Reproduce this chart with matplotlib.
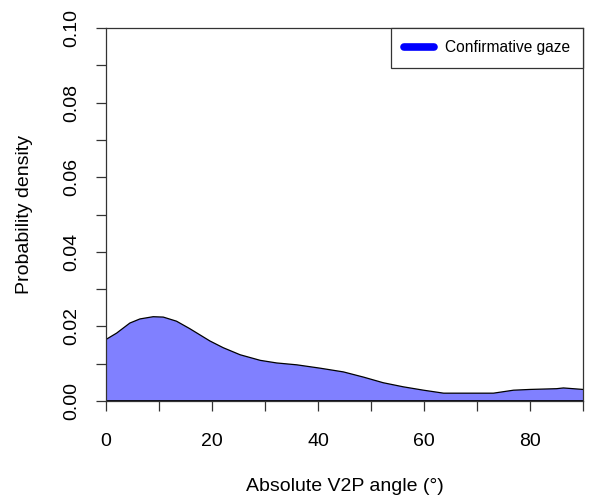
import matplotlib
matplotlib.use("Agg")
import matplotlib.pyplot as plt
import numpy as np

plt.rcParams['font.family'] = ['Liberation Sans', 'DejaVu Sans']

angle = [0, 2.0, 4.5, 6.4, 8.9, 10.8, 13.3, 15.8, 19.6, 22.1, 25.3, 29.1, 32.2, 36.0,
         40.4, 44.8, 48.6, 52.3, 56.1, 59.9, 63.7, 68.7, 73.1, 76.9, 80.0, 85.0, 86.3, 90]
density = [0.0165, 0.0182, 0.0209, 0.0220, 0.0226, 0.0225, 0.0214, 0.0194, 0.0161, 0.0143,
           0.0124, 0.0109, 0.0102, 0.0097, 0.0088, 0.0078, 0.0064, 0.0049, 0.0038, 0.0029,
           0.0021, 0.0021, 0.0021, 0.0029, 0.0031, 0.0033, 0.0035, 0.0031]
series_label = "Confirmative gaze"
x_ticks = [0, 10, 20, 30, 40, 50, 60, 70, 80, 90]
x_labels = ["0", "", "20", "", "40", "", "60", "", "80", ""]
y_ticks = [0.00, 0.01, 0.02, 0.03, 0.04, 0.05, 0.06, 0.07, 0.08, 0.09, 0.10]
y_labels = ["0.00", "", "0.02", "", "0.04", "", "0.06", "", "0.08", "", "0.10"]

fig = plt.figure(figsize=(5.98, 5.0), dpi=100)
ax = fig.add_axes([106/598, 1-401/500, (583-106)/598, (401-28)/500])

ax.fill_between(angle, 0, density, facecolor="#8080FF", edgecolor="none")
ax.plot(angle, density, color="black", lw=0.9)
ax.plot([0, 90], [0, 0], color="black", lw=2)

ax.set_xlim(0, 90)
ax.set_ylim(0, 0.10)
ax.set_xticks(x_ticks)
ax.set_xticklabels(x_labels)
ax.set_yticks(y_ticks)
ax.set_yticklabels(y_labels, rotation=90, va="center")
ax.tick_params(axis="both", labelsize=14, length=7, width=0.9, direction="out", color="#333333")
ax.tick_params(axis="x", pad=16)
ax.tick_params(axis="y", pad=11.5)
for s in ax.spines.values():
    s.set_linewidth(0.9)
    s.set_color("#333333")

ax.set_xlabel("Absolute V2P angle (°)", fontsize=14, labelpad=20)
ax.set_ylabel("Probability density", fontsize=14, labelpad=21.5)

h, = ax.plot([], [], color="#0000FF", lw=5.5, solid_capstyle="round")
leg = ax.legend([h], [series_label], loc="upper right", borderaxespad=0, fancybox=False,
                framealpha=1, edgecolor="#333333", fontsize=11.2, handlelength=1.95,
                borderpad=0.8, handletextpad=0.72)
leg.get_frame().set_linewidth(0.9)

fig.savefig("out.png", dpi=100)
